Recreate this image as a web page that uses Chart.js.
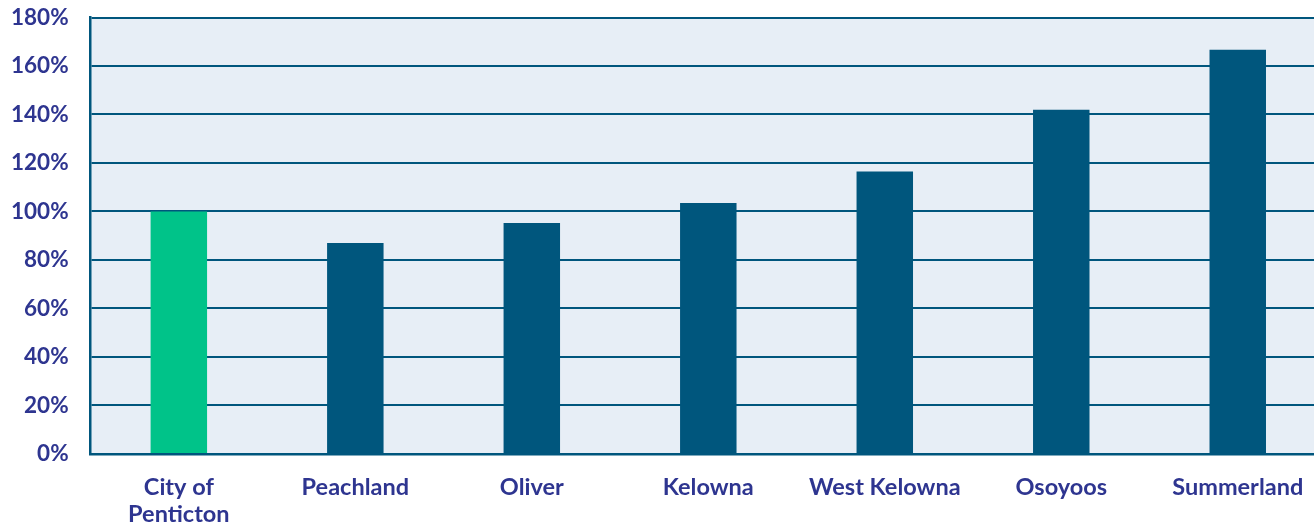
<!DOCTYPE html>
<html>
<head>
<meta charset="utf-8">
<script src="https://cdn.jsdelivr.net/npm/chart.js@4"></script>
<style>
  html, body { margin: 0; padding: 0; background: #fff; overflow: hidden; }
  #outer { width: 1314px; height: 526px; position: relative; overflow: hidden; }
  #wrap { width: 1326px; height: 545px; position: absolute; left: 0; top: -18px; }
</style>
</head>
<body>
<div id="outer"><div id="wrap"><canvas id="mainChart"></canvas></div></div>
<script>
// dữ liệu
const categories = [['City of', 'Penticton'], 'Peachland', 'Oliver', 'Kelowna', 'West Kelowna', 'Osoyoos', 'Summerland'];
const values = [100, 87, 95.2, 103.5, 116.5, 142, 166.7];
const barColors = ['#00c389', '#00567d', '#00567d', '#00567d', '#00567d', '#00567d', '#00567d'];
const yMin = 0, yMax = 180, yStep = 20;

const textColor = '#2e3590';
const lineColor = '#00567d';

// nền vùng vẽ
const areaBg = {
    id: 'areaBg',
    beforeDraw(chart) {
        const { ctx, chartArea: a } = chart;
        ctx.save();
        ctx.fillStyle = '#e7eef6';
        ctx.fillRect(a.left, a.top, a.right - a.left, a.bottom - a.top);
        ctx.restore();
    }
};

const ctx = document.getElementById('mainChart').getContext('2d');
new Chart(ctx, {
    type: 'bar',
    data: {
        labels: categories,
        datasets: [{
            data: values,
            backgroundColor: barColors,
            borderWidth: 0,
            barPercentage: 0.64,
            categoryPercentage: 0.5
        }]
    },
    options: {
        responsive: true,
        maintainAspectRatio: false,
        animation: false,
        layout: { padding: { top: -11, left: -11, right: 0, bottom: -21 } },
        plugins: {
            legend: { display: false },
            tooltip: { enabled: false }
        },
        scales: {
            x: {
                grid: { display: false, drawTicks: false },
                border: { color: lineColor, width: 2.5 },
                ticks: {
                    color: textColor,
                    padding: 20,
                    maxRotation: 0,
                    autoSkip: false,
                    font: { family: 'Lato', size: 23.5, weight: 'bold', lineHeight: 1.15 }
                }
            },
            y: {
                min: yMin,
                max: yMax,
                grid: { color: lineColor, lineWidth: 2, drawTicks: false },
                border: { color: lineColor, width: 2.5 },
                ticks: {
                    stepSize: yStep,
                    color: textColor,
                    padding: 22,
                    font: { family: 'Lato', size: 22.5, weight: 'bold' },
                    callback: v => v + '%'
                }
            }
        }
    },
    plugins: [areaBg]
});
</script>
</body>
</html>
